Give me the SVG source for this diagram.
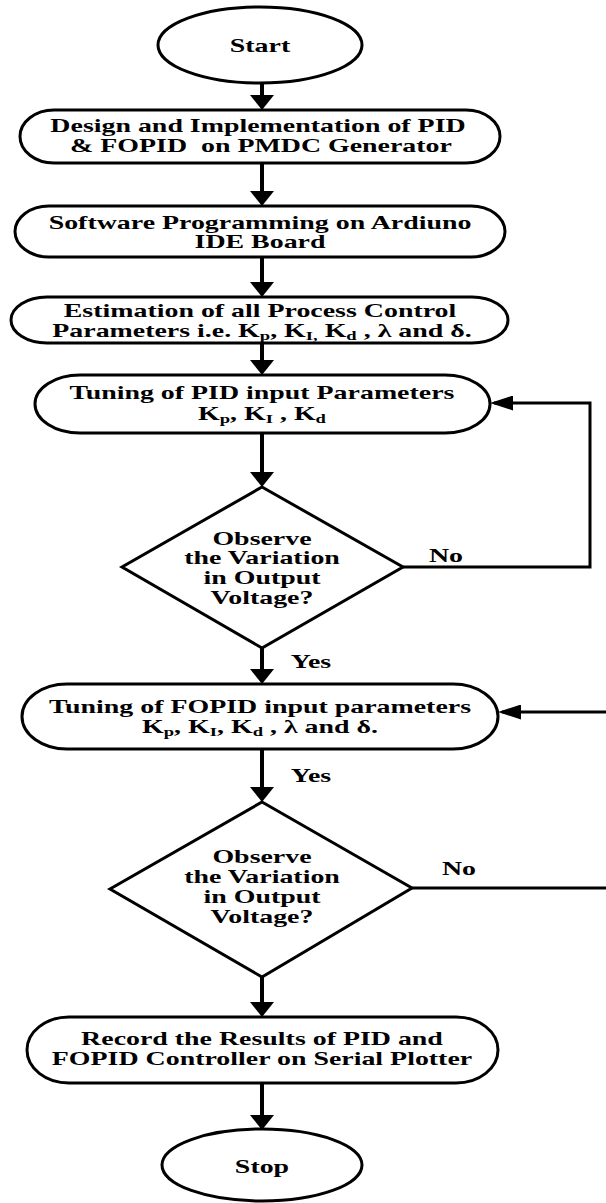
<svg xmlns="http://www.w3.org/2000/svg" width="606" height="1203" viewBox="0 0 606 1203">
<defs>
<style>
.shape{fill:#fff;stroke:#000;stroke-width:3}
.cv{fill:none;stroke:#000;stroke-width:4}
.ch{fill:none;stroke:#000;stroke-width:3}
.t{font-family:"Liberation Serif","Times New Roman",serif;font-weight:bold;font-size:18px;text-anchor:middle;fill:#000;white-space:pre}
.s{font-size:12px}
</style>
<marker id="arrV" viewBox="0 0 15 24" refX="11" refY="12" markerWidth="15" markerHeight="24" markerUnits="userSpaceOnUse" orient="auto">
<path d="M0,0 L15,12 L0,24 Z" fill="#000"/>
</marker>
<marker id="arrH" viewBox="0 0 23 15" refX="19" refY="7.5" markerWidth="23" markerHeight="15" markerUnits="userSpaceOnUse" orient="auto">
<path d="M0,0 L23,7.5 L0,15 Z" fill="#000"/>
</marker>
</defs>
<rect width="606" height="1203" fill="#fff"/>

<g id="connectors">
<line class="cv" x1="262" y1="83" x2="262" y2="106" marker-end="url(#arrV)"/>
<line class="cv" x1="262" y1="163" x2="262" y2="202" marker-end="url(#arrV)"/>
<line class="cv" x1="262" y1="257" x2="262" y2="293" marker-end="url(#arrV)"/>
<line class="cv" x1="262" y1="343" x2="262" y2="371" marker-end="url(#arrV)"/>
<line class="cv" x1="262" y1="433" x2="262" y2="483" marker-end="url(#arrV)"/>
<line class="cv" x1="262" y1="648" x2="262" y2="680" marker-end="url(#arrV)"/>
<line class="cv" x1="262" y1="749" x2="262" y2="798" marker-end="url(#arrV)"/>
<line class="cv" x1="262" y1="977" x2="262" y2="1013" marker-end="url(#arrV)"/>
<line class="cv" x1="262" y1="1083" x2="262" y2="1126" marker-end="url(#arrV)"/>
<polyline class="ch" points="403,567 590,567 590,403 494,403" marker-end="url(#arrH)"/>
<line class="ch" x1="412" y1="888" x2="606" y2="888"/>
<line class="ch" x1="606" y1="712" x2="502" y2="712" marker-end="url(#arrH)"/>
<text class="t" transform="translate(446,562) scale(1.55,1)">No</text>
<text class="t" transform="translate(459,875) scale(1.55,1)">No</text>
<text class="t" transform="translate(311,668) scale(1.55,1)">Yes</text>
<text class="t" transform="translate(311,782) scale(1.55,1)">Yes</text>
</g>

<g id="start">
<ellipse class="shape" cx="260" cy="45" rx="102" ry="38"/>
<text class="t" transform="translate(260,52) scale(1.55,1)">Start</text>
</g>

<g id="design">
<rect class="shape" x="20" y="110" width="480" height="53" rx="34" ry="26.5"/>
<text class="t" transform="translate(258,132) scale(1.55,1)">Design and Implementation of PID</text>
<text class="t" transform="translate(261,152) scale(1.55,1)">&amp; FOPID  on PMDC Generator</text>
</g>

<g id="software">
<rect class="shape" x="15" y="206" width="490" height="51" rx="34" ry="25.5"/>
<text class="t" transform="translate(260,229) scale(1.55,1)">Software Programming on Ardiuno</text>
<text class="t" transform="translate(260,248) scale(1.55,1)">IDE Board</text>
</g>

<g id="estimation">
<rect class="shape" x="11" y="297" width="497" height="46" rx="36" ry="23"/>
<text class="t" transform="translate(260,317) scale(1.55,1)">Estimation of all Process Control</text>
<text class="t" transform="translate(262,337) scale(1.55,1)">Parameters i.e. K<tspan class="s" dy="3">p</tspan><tspan dy="-3">, K</tspan><tspan class="s" dy="3">I,</tspan><tspan dy="-3"> K</tspan><tspan class="s" dy="3">d</tspan><tspan dy="-3"> , λ and δ.</tspan></text>
</g>

<g id="tuning-pid">
<rect class="shape" x="35" y="375" width="455" height="58" rx="45" ry="29"/>
<text class="t" transform="translate(262,399) scale(1.55,1)">Tuning of PID input Parameters</text>
<text class="t" transform="translate(262,420) scale(1.55,1)">K<tspan class="s" dy="3">p</tspan><tspan dy="-3">, K</tspan><tspan class="s" dy="3">I</tspan><tspan dy="-3"> , K</tspan><tspan class="s" dy="3">d</tspan></text>
</g>

<g id="decision-1">
<polygon class="shape" points="262,487 403,567 262,648 122,567"/>
<text class="t" transform="translate(262,545) scale(1.55,1)">Observe</text>
<text class="t" transform="translate(262,564) scale(1.55,1)">the Variation</text>
<text class="t" transform="translate(262,584) scale(1.55,1)">in Output</text>
<text class="t" transform="translate(262,604) scale(1.55,1)">Voltage?</text>
</g>

<g id="tuning-fopid">
<rect class="shape" x="22" y="684" width="476" height="65" rx="45" ry="32.5"/>
<text class="t" transform="translate(260,713) scale(1.55,1)">Tuning of FOPID input parameters</text>
<text class="t" transform="translate(260,733) scale(1.55,1)">K<tspan class="s" dy="3">p</tspan><tspan dy="-3">, K</tspan><tspan class="s" dy="3">I</tspan><tspan dy="-3">, K</tspan><tspan class="s" dy="3">d</tspan><tspan dy="-3"> , λ and δ.</tspan></text>
</g>

<g id="decision-2">
<polygon class="shape" points="262,802 412,888 262,977 110,889"/>
<text class="t" transform="translate(262,863) scale(1.55,1)">Observe</text>
<text class="t" transform="translate(262,883) scale(1.55,1)">the Variation</text>
<text class="t" transform="translate(262,903) scale(1.55,1)">in Output</text>
<text class="t" transform="translate(262,923) scale(1.55,1)">Voltage?</text>
</g>

<g id="record">
<rect class="shape" x="27" y="1017" width="471" height="66" rx="42" ry="33"/>
<text class="t" transform="translate(262,1045) scale(1.55,1)">Record the Results of PID and</text>
<text class="t" transform="translate(262,1065) scale(1.55,1)">FOPID Controller on Serial Plotter</text>
</g>

<g id="stop">
<ellipse class="shape" cx="262" cy="1165" rx="100" ry="36"/>
<text class="t" transform="translate(262,1173) scale(1.55,1)">Stop</text>
</g>
</svg>
